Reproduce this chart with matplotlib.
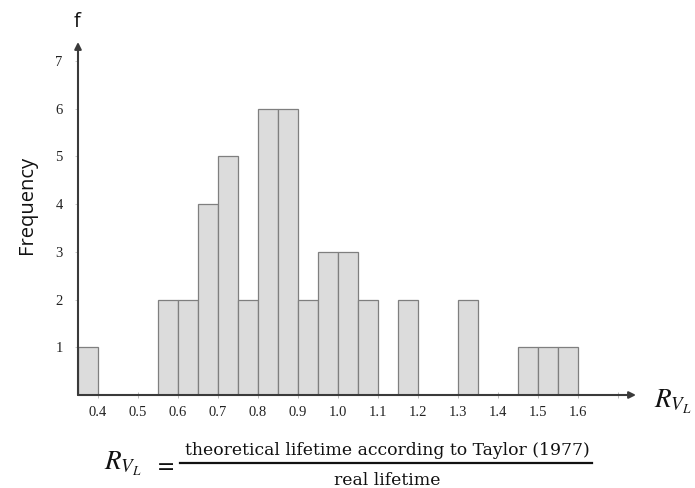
import matplotlib
matplotlib.use("Agg")
import matplotlib.pyplot as plt
from matplotlib.lines import Line2D

plt.rcParams['mathtext.fontset'] = 'stix'

# Data: histogram bins (left edges), width 0.05
bin_left = [0.35, 0.55, 0.60, 0.65, 0.70, 0.75, 0.80, 0.85, 0.90, 0.95, 1.00, 1.05, 1.15, 1.30, 1.45, 1.50, 1.55]
counts   = [1,    2,    2,    4,    5,    2,    6,    6,    2,    3,    3,    2,    2,    2,    1,    1,    1]
bin_width = 0.05
xticks = [0.4, 0.5, 0.6, 0.7, 0.8, 0.9, 1.0, 1.1, 1.2, 1.3, 1.4, 1.5, 1.6, 1.7]
xtick_labels = ['0.4', '0.5', '0.6', '0.7', '0.8', '0.9', '1.0', '1.1', '1.2', '1.3', '1.4', '1.5', '1.6', '']
yticks = [1, 2, 3, 4, 5, 6, 7]

W, H = 695, 488
fig = plt.figure(figsize=(W / 100, H / 100), dpi=100)
# axes in pixel coordinates: left 78, right 636, bottom(px from top) 395, top 42
l, r, b, t = 78, 636, 395, 42
ax = fig.add_axes([l / W, 1 - b / H, (r - l) / W, (b - t) / H])
ax.bar(bin_left, counts, width=bin_width, align='edge', color='#dcdcdc',
       edgecolor='#7f7f7f', linewidth=0.9, zorder=2)
ax.set_xlim(0.35, 1.745)
ax.set_ylim(0, 7.4)

for s in ax.spines.values():
    s.set_visible(False)

axis_col = '#3a3a3a'
ax.annotate('', xy=(1.0, 0), xytext=(0, 0), xycoords='axes fraction',
            arrowprops=dict(arrowstyle='-|>', color=axis_col, lw=1.5,
                            mutation_scale=10, shrinkA=0, shrinkB=0), zorder=3)
ax.annotate('', xy=(0, 1.0), xytext=(0, 0), xycoords='axes fraction',
            arrowprops=dict(arrowstyle='-|>', color=axis_col, lw=1.5,
                            mutation_scale=10, shrinkA=0, shrinkB=0), zorder=3)

ax.set_xticks(xticks)
ax.set_xticklabels(xtick_labels)
ax.set_yticks(yticks)
ax.set_yticklabels([str(v) for v in yticks])
ax.tick_params(axis='x', direction='inout', length=4, width=0.6, color='#b0b0b0',
               pad=6, labelsize=10.5, labelcolor='#222222')
ax.tick_params(axis='y', direction='out', length=2, width=0.6, color='#c0c0c0',
               pad=9, labelsize=10.5, labelcolor='#222222')
for lab in ax.get_xticklabels() + ax.get_yticklabels():
    lab.set_fontfamily('Liberation Serif')

# Axis labels
fig.text(27 / W, 1 - 205 / H, 'Frequency', rotation=90, ha='center', va='center',
         fontsize=14.5, family='Open Sans', color='#111111')
fig.text(77 / W, 1 - 22 / H, 'f', ha='center', va='center',
         fontsize=14.5, family='Open Sans', color='#111111')
fig.text(654 / W, 1 - 408 / H, r'$R_{V_L}$', ha='left', va='baseline',
         fontsize=19.5, color='#111111')

# Formula below
fig.text(104 / W, 1 - 470 / H, r'$R_{V_L}$', ha='left', va='baseline',
         fontsize=19.5, color='#111111')
fig.text(164 / W, 1 - 464 / H, r'$=$', ha='center', va='center',
         fontsize=17, color='#111111')
fig.text(387 / W, 1 - 455 / H, 'theoretical lifetime according to Taylor (1977)',
         ha='center', va='baseline', fontsize=12.4, family='DejaVu Serif', color='#111111')
fig.text(387 / W, 1 - 485 / H, 'real lifetime',
         ha='center', va='baseline', fontsize=12.4, family='DejaVu Serif', color='#111111')
fig.add_artist(Line2D([180 / W, 592 / W], [1 - 463 / H, 1 - 463 / H],
                      transform=fig.transFigure, color='#111111', lw=1.6))

fig.savefig('out.png', dpi=100)
